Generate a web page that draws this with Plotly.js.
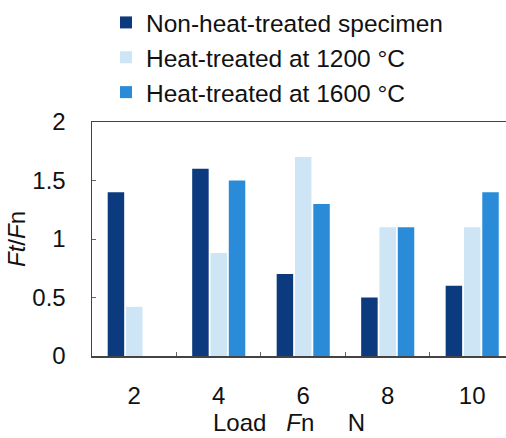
<!DOCTYPE html>
<html>
<head>
<meta charset="utf-8">
<script src="https://cdn.plot.ly/plotly-3.0.1.min.js"></script>
<style>
html,body{margin:0;padding:0;background:#fff;overflow:hidden;}
#chart{width:506px;height:438px;}
</style>
</head>
<body>
<div id="chart"></div>
<script>
const loads = ["2", "4", "6", "8", "10"];
const nonHeatTreated = [1.4, 1.6, 0.7, 0.5, 0.6];
const heat1200 = [0.42, 0.88, 1.7, 1.1, 1.1];
const heat1600 = [0, 1.5, 1.3, 1.1, 1.4];
const seriesNames = ["Non-heat-treated specimen", "Heat-treated at 1200 °C", "Heat-treated at 1600 °C"];
const seriesColors = ["#0c3a7f", "#cde5f5", "#2a8cd8"];

const series = [nonHeatTreated, heat1200, heat1600];
const traces = series.map((vals, i) => ({
  type: "bar",
  x: loads,
  y: vals,
  name: seriesNames[i],
  legendgroup: "g" + i,
  marker: {color: seriesColors[i], line: {width: 0}},
  hoverinfo: "skip"
}));

const font = {family: "Liberation Sans, Arial, sans-serif", color: "#111", size: 24};

const layout = {
  width: 506,
  height: 438,
  margin: {l: 92, r: 0, t: 122, b: 82, pad: 0},
  paper_bgcolor: "#fff",
  plot_bgcolor: "#fff",
  font: font,
  barmode: "group",
  bargap: 0.35,
  bargroupgap: 0.1,
  showlegend: true,
  legend: {
    x: (106 - 92) / 414,
    xanchor: "left",
    y: 1 + 122 / 234,
    yanchor: "top",
    bgcolor: "rgba(0,0,0,0)",
    font: {family: font.family, size: 24.5, color: "#111"},
    tracegroupgap: 6,
    traceorder: "normal"
  },
  xaxis: {
    type: "category",
    range: [-0.5, 4.4],
    showline: true,
    linecolor: "#444",
    linewidth: 1.5,
    mirror: true,
    ticks: "inside",
    tickson: "boundaries",
    ticklen: 4,
    tickcolor: "#666",
    showgrid: false,
    zeroline: false,
    ticklabelstandoff: 18,
    tickfont: {size: 24},
    title: {
      text: "Load\u00a0\u00a0\u00a0<i>F</i>n\u00a0\u00a0\u00a0\u00a0\u00a0N<span style=\"color:rgba(0,0,0,0)\">...</span>",
      font: {size: 24},
      standoff: 0
    }
  },
  yaxis: {
    range: [0, 2],
    tickvals: [0, 0.5, 1, 1.5, 2],
    ticktext: ["0", "0.5", "1", "1.5", "2"],
    showline: true,
    linecolor: "#444",
    linewidth: 1.5,
    ticks: "inside",
    ticklen: 4,
    tickcolor: "#666",
    showgrid: false,
    zeroline: false,
    ticklabelstandoff: 20,
    tickfont: {size: 24},
    title: {text: "<i>Ft</i>/<i>F</i>n", font: {size: 24}, standoff: 0}
  }
};

Plotly.newPlot("chart", traces, layout, {displayModeBar: false, staticPlot: true});
</script>
</body>
</html>
